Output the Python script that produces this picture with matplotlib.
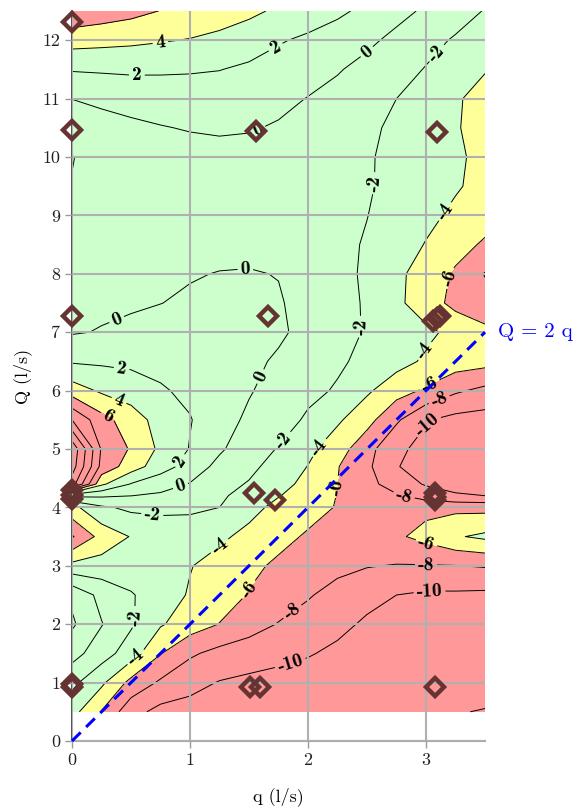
import numpy as np
import matplotlib
matplotlib.use("Agg")
import matplotlib.pyplot as plt

plt.rcParams['font.family'] = ['cmr10', 'DejaVu Serif']
plt.rcParams['axes.formatter.use_mathtext'] = True
plt.rcParams['contour.negative_linestyle'] = 'solid'

# grid of the field
q_vals = [0.0, 0.25, 0.5, 0.75, 1.0, 1.25, 1.5, 1.75, 2.0, 2.25, 2.5, 2.75, 3.0, 3.25, 3.5]
Q_vals = [0.5, 1.0, 1.5, 2.0, 2.5, 3.0, 3.5, 4.0, 4.2, 4.4, 4.7, 5.0, 5.5, 6.0, 6.5,
          7.0, 7.5, 8.0, 8.5, 9.0, 9.5, 10.0, 10.5, 11.0, 11.5, 12.0, 12.5]
z_rows = [
    [-3.3, -6.1, -9.3, -10.6, -10.7, -11.0, -11.2, -11.4, -11.5, -11.6, -11.7, -11.8, -11.9, -11.95, -12.05],
    [-1.5, -3.6, -6.6, -8.3, -9.4, -10.1, -10.4, -10.6, -10.9, -11.2, -11.4, -11.6, -11.6, -11.6, -11.6],
    [0.75, -1.1, -3.0, -5.9, -7.7, -8.6, -9.1, -9.5, -9.85, -10.4, -10.8, -11.0, -11.1, -11.1, -11.0],
    [2.3, 0.1, -1.75, -3.8, -5.0, -6.05, -7.1, -8.1, -8.9, -9.5, -10.3, -10.6, -10.7, -10.7, -10.6],
    [1.6, -0.6, -1.85, -2.9, -4.2, -5.2, -6.1, -6.9, -7.8, -8.8, -9.4, -10.0, -10.3, -10.3, -10.4],
    [-3.4, -3.2, -3.0, -3.2, -3.9, -4.8, -5.6, -6.3, -6.9, -7.4, -7.9, -8.1, -8.1, -8.05, -7.85],
    [-8.2, -5.3, -3.9, -3.3, -3.2, -3.6, -4.6, -5.5, -6.2, -6.8, -7.0, -6.3, -5.4, -4.2, -3.6],
    [-4.6, -2.3, -1.6, -1.5, -1.6, -2.0, -3.3, -4.6, -5.4, -6.1, -6.8, -6.7, -6.5, -6.5, -6.6],
    [0.5, 0.3, 0.02, -0.3, -1.0, -1.7, -2.7, -3.9, -5.0, -6.05, -7.1, -7.8, -8.9, -9.8, -10.0],
    [13.0, 4.4, 1.9, 0.8, -0.1, -1.3, -2.15, -3.4, -4.5, -6.0, -7.4, -8.9, -10.2, -10.6, -10.5],
    [15.0, 7.4, 5.0, 2.9, 1.2, -0.6, -1.5, -2.8, -4.05, -5.9, -7.6, -9.9, -10.8, -11.2, -11.0],
    [15.5, 7.8, 5.8, 3.6, 1.9, 0.3, -1.2, -2.1, -3.5, -5.1, -7.3, -9.6, -10.6, -11.0, -10.8],
    [10.0, 6.7, 5.0, 3.2, 2.1, 0.8, -0.35, -1.1, -2.3, -3.7, -5.3, -7.7, -9.85, -10.6, -10.8],
    [5.0, 3.7, 3.0, 2.2, 1.6, 0.9, 0.15, -0.75, -1.5, -2.2, -3.7, -5.2, -6.3, -7.7, -8.5],
    [1.8, 1.7, 1.6, 1.45, 1.25, 0.95, 0.5, -0.3, -1.0, -1.7, -2.5, -3.3, -4.3, -5.0, -5.3],
    [-0.15, 0.1, 0.35, 0.55, 0.75, 0.85, 0.8, 0.35, -0.65, -1.4, -2.15, -2.9, -3.6, -4.5, -5.5],
    [-0.5, -0.35, -0.2, -0.02, 0.2, 0.35, 0.4, 0.15, -0.6, -1.35, -2.2, -3.6, -5.0, -6.6, -7.3],
    [-0.9, -0.7, -0.5, -0.3, -0.1, 0.05, 0.1, -0.05, -0.6, -1.4, -2.3, -3.6, -4.8, -6.3, -8.1],
    [-1.3, -1.15, -1.0, -0.8, -0.6, -0.45, -0.45, -0.7, -1.05, -1.55, -2.15, -3.0, -4.1, -5.2, -6.3],
    [-1.7, -1.5, -1.3, -1.1, -0.9, -0.8, -0.8, -0.95, -1.2, -1.55, -1.97, -2.7, -3.5, -4.4, -5.1],
    [-1.95, -1.6, -1.3, -1.05, -0.85, -0.75, -0.75, -0.9, -1.15, -1.5, -1.85, -2.45, -3.1, -3.8, -4.6],
    [-2.05, -1.5, -1.1, -0.8, -0.6, -0.5, -0.55, -0.75, -1.0, -1.4, -1.85, -2.4, -3.0, -3.7, -4.5],
    [-0.9, -0.55, -0.3, -0.08, 0.1, 0.2, 0.12, -0.15, -0.6, -1.1, -1.6, -2.4, -3.1, -3.85, -4.7],
    [0.02, 0.3, 0.55, 0.75, 0.9, 0.9, 0.75, 0.4, -0.05, -0.6, -1.3, -2.0, -2.8, -3.8, -4.6],
    [2.15, 2.25, 2.35, 2.3, 2.2, 2.05, 1.65, 1.1, 0.6, 0.15, -0.6, -1.3, -2.1, -3.0, -3.9],
    [4.8, 4.6, 4.4, 4.15, 3.9, 3.5, 3.0, 2.2, 1.6, 1.0, 0.4, -0.5, -1.4, -2.2, -3.1],
    [7.6, 7.1, 6.6, 5.95, 5.5, 5.0, 4.4, 3.7, 3.2, 2.4, 1.5, 0.6, -0.3, -1.2, -2.1],
]

fill_levels = [-20, -6, -4, 4, 6, 20]
fill_colors = ['#ff9999', '#ffff99', '#ccffcc', '#ffff99', '#ff9999']
line_levels = [-12, -10, -8, -6, -4, -2, 0, 2, 4, 6, 8, 10, 12, 14, 16]

# measurement points (diamonds)
q_pts = [0.0, 0.0, 0.0, 0.0, 0.0, 0.0, 0.0, 0.0,
         1.56, 1.66, 1.54, 1.72, 1.51, 1.59,
         3.09, 3.06, 3.09, 3.12, 3.08, 3.08, 3.08, 3.08]
Q_pts = [12.32, 10.46, 7.27, 4.30, 4.22, 4.14, 0.97, 0.92,
         10.45, 7.27, 4.24, 4.13, 0.92, 0.92,
         10.43, 7.20, 7.24, 7.28, 4.24, 4.18, 4.12, 0.93]

line_q = [0.0, 3.5]
line_Q = [0.0, 7.0]

label_pos = [(0.75, 11.95), (0.55, 11.37), (1.74, 11.83), (2.5, 11.8), (3.09, 11.78),
             (1.58, 10.45), (2.57, 9.55), (3.18, 9.04), (3.2, 7.93), (1.47, 8.07),
             (0.39, 7.16), (2.44, 7.09), (1.61, 6.23), (0.42, 6.37), (0.41, 5.89),
             (0.32, 5.62), (3.06, 6.58), (3.03, 6.1), (3.12, 5.8), (3.0, 5.44),
             (0.93, 4.78), (0.93, 4.3), (1.79, 5.15), (2.09, 5.03), (2.25, 4.35),
             (2.81, 4.18), (0.68, 3.87), (1.23, 3.39), (1.5, 2.59), (3.0, 3.36),
             (3.0, 3.01), (3.03, 2.67), (1.87, 2.21), (1.85, 1.33), (0.55, 2.12),
             (0.56, 1.39)]


def main():
    X, Y = np.meshgrid(q_vals, Q_vals)
    Z = np.array(z_rows)

    fig = plt.figure(figsize=(5.75, 8.10), dpi=100)
    ax = fig.add_axes([0.1252, 0.0852, 0.7183, 0.9012])
    ax.set_xlim(0, 3.5)
    ax.set_ylim(0, 12.5)

    ax.contourf(X, Y, Z, levels=fill_levels, colors=fill_colors, zorder=1)
    cs = ax.contour(X, Y, Z, levels=line_levels, colors='black', linewidths=0.7,
                    linestyles='solid', zorder=2)
    labels = ax.clabel(cs, fmt='%d', fontsize=14, manual=label_pos, inline=True, inline_spacing=3)
    for t in labels:
        t.set_fontfamily('cmb10')
        t.set_zorder(3)

    ax.plot(line_q, line_Q, color='blue', lw=2.2, dashes=(4, 2.5), zorder=3.5, clip_on=False)
    ax.annotate('Q = 2 q', xy=(3.5, 7.0), xytext=(9, 0), textcoords='offset points',
                color='blue', fontsize=15, va='center', ha='left', annotation_clip=False)

    ax.plot(q_pts, Q_pts, 'D', ms=9, mfc='none', mec='#663333', mew=3.2,
            zorder=5, clip_on=False)

    ax.set_xticks([0, 1, 2, 3])
    ax.set_xticklabels(['0', '1', '2', '3'])
    ax.set_yticks(range(13))
    ax.set_yticklabels([str(i) for i in range(13)])
    ax.tick_params(direction='out', length=5, width=1, color='#999999',
                   labelsize=13, labelcolor='#222222')

    ax.grid(True, color='#b0b0b0', linewidth=1.5)
    ax.set_axisbelow(False)
    ax.spines['top'].set_visible(False)
    ax.spines['right'].set_visible(False)
    ax.spines['left'].set_color('#333333')
    ax.spines['left'].set_linewidth(1.2)
    ax.spines['bottom'].set_color('#aaaaaa')
    ax.spines['bottom'].set_linewidth(1.5)

    ax.set_xlabel('q (l/s)', fontsize=13)
    ax.set_ylabel('Q (l/s)', fontsize=13)
    ax.xaxis.set_label_coords(0.5, -0.063)
    ax.yaxis.set_label_coords(-0.097, 0.5)

    fig.savefig('out.png', dpi=100)


if __name__ == "__main__":
    main()
